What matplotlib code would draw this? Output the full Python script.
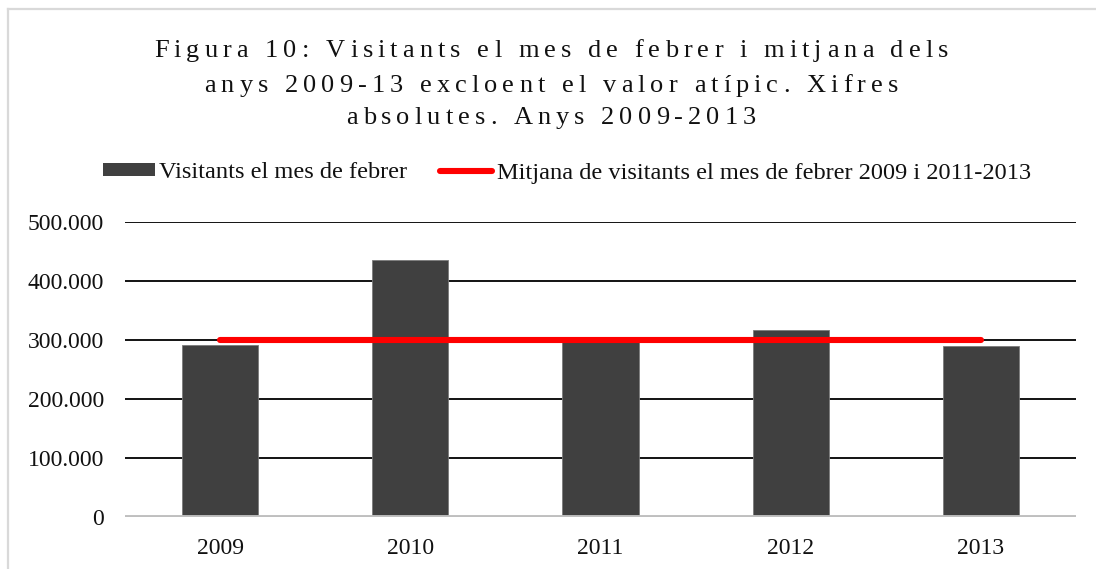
import matplotlib
matplotlib.use("Agg")
import matplotlib.pyplot as plt
from matplotlib.ticker import FuncFormatter, FixedLocator
from matplotlib.lines import Line2D
from matplotlib.patches import Patch
from matplotlib import font_manager
from matplotlib.ft2font import FT2Font

# ---- data ----
years = ["2009", "2010", "2011", "2012", "2013"]
visitants = [291500, 435500, 301000, 317000, 290000]
mitjana = [300000, 300000, 300000, 300000, 300000]
yticks = [0, 100000, 200000, 300000, 400000, 500000]
title_lines = [
    "Figura 10: Visitants el mes de febrer i mitjana dels",
    "anys 2009-13 excloent el valor atípic. Xifres",
    "absolutes. Anys 2009-2013",
]
label_bars = "Visitants el mes de febrer"
label_line = "Mitjana de visitants el mes de febrer 2009 i 2011-2013"

W, H, DPI = 1096, 569, 100
SERIF = "Liberation Serif"
plt.rcParams["font.family"] = [SERIF, "DejaVu Serif"]

fig = plt.figure(figsize=(W / DPI, H / DPI), dpi=DPI)
fig.patch.set_facecolor("white")

ax = fig.add_axes([125 / W, 1 - 517 / H, (1076 - 125) / W, (517 - 222) / H])
x = list(range(len(years)))
ax.bar(x, visitants, width=0.4, color="#404040", edgecolor="#7a7a7a",
       linewidth=0.6, zorder=3)
ax.plot(x, mitjana, color="#ff0000", lw=4.4, solid_capstyle="round", zorder=4)

ax.set_xlim(-0.5, len(years) - 0.5)
ax.set_ylim(0, 500000)
ax.yaxis.set_major_locator(FixedLocator(yticks))
ax.yaxis.set_major_formatter(FuncFormatter(lambda v, p: f"{int(v):,}".replace(",", ".")))
ax.set_xticks(x)
ax.set_xticklabels(years)
for t in ax.get_xticklabels() + ax.get_yticklabels():
    t.set_fontsize(17)
    t.set_fontfamily(SERIF)
    t.set_color("#111111")
ax.tick_params(axis="both", length=0)
ax.tick_params(axis="y", pad=15)
ax.tick_params(axis="x", pad=15)
for s in ax.spines.values():
    s.set_visible(False)
for v in yticks[1:]:
    ax.axhline(v, color="black", lw=1.3, zorder=1)
ax.axhline(0, color="#bfbfbf", lw=2.8, zorder=5)

# ---- legend ----
handles = [Patch(facecolor="#404040", edgecolor="none"),
           Line2D([0], [0], color="#ff0000", lw=4.4, solid_capstyle="round")]
leg = fig.legend(handles, [label_bars, label_line], loc="center",
                 bbox_to_anchor=(567 / W, 1 - 173 / H), ncol=2, frameon=False,
                 prop={"family": SERIF, "size": 17.6}, handlelength=2.1,
                 handleheight=0.42, handletextpad=0.2, columnspacing=1.35,
                 borderpad=0, borderaxespad=0)
for t in leg.get_texts():
    t.set_color("#111111")

# ---- letter-spaced title ----
tprop = font_manager.FontProperties(family=SERIF, size=19)
font = FT2Font(font_manager.findfont(tprop))
font.set_size(19, DPI)

def advance(ch):
    g = font.load_char(ord(ch))
    return g.linearHoriAdvance / 65536.0

spacing = 5.1
baselines = [57, 92, 124]
cx = 551
for line, by in zip(title_lines, baselines):
    advs = [advance(c) for c in line]
    total = sum(advs) + spacing * (len(line) - 1)
    xp = cx - total / 2
    for c, a in zip(line, advs):
        if c != " ":
            fig.text(xp / W, 1 - by / H, c, fontproperties=tprop,
                     ha="left", va="baseline", color="#111111")
        xp += a + spacing

# ---- outer frame (left & top) ----
fig.add_artist(Line2D([8 / W, 8 / W], [0, 1 - 9 / H], color="#d9d9d9", lw=1.6,
                      transform=fig.transFigure))
fig.add_artist(Line2D([8 / W, 1], [1 - 9 / H, 1 - 9 / H], color="#d9d9d9", lw=1.6,
                      transform=fig.transFigure))

fig.savefig("out.png", dpi=DPI)
